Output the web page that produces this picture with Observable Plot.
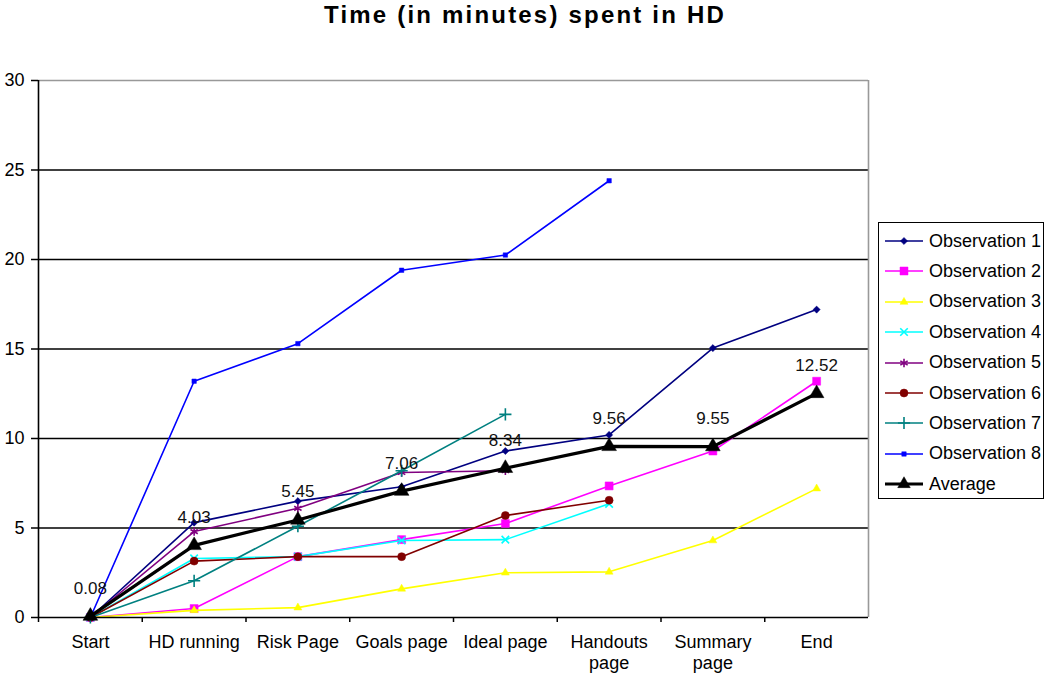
<!DOCTYPE html>
<html>
<head>
<meta charset="utf-8">
<script src="https://cdn.jsdelivr.net/npm/d3@7"></script>
<script src="https://cdn.jsdelivr.net/npm/@observablehq/plot@0.6"></script>
<style>
  body { margin: 0; background: #fff; font-family: "Liberation Sans", Arial, sans-serif; }
  #wrap { position: relative; width: 1050px; height: 678px; overflow: hidden; }
  #title { height: 40px; line-height: 30px; text-align: center; font-weight: bold; font-size: 24px; letter-spacing: 2.2px; color: #000; }
  #legend { position: absolute; left: 878px; top: 222px; width: 166px; height: 277px; border: 1.5px solid #000; box-sizing: border-box; background: #fff; }
  .item { position: absolute; left: 0; height: 24px; display: flex; align-items: center; font-size: 18px; color: #000; white-space: nowrap; }
  .item svg { margin-left: 6px; margin-right: 6px; }
</style>
</head>
<body>
<div id="wrap">
  <div id="title">Time (in minutes) spent in HD</div>
  <div id="chart"></div>
  <div id="legend"></div>
</div>
<script>
const categories = ["Start", "HD running", "Risk Page", "Goals page", "Ideal page", "Handouts\npage", "Summary\npage", "End"];
const seriesNames = ["Observation 1", "Observation 2", "Observation 3", "Observation 4", "Observation 5", "Observation 6", "Observation 7", "Observation 8", "Average"];
const obs1 = [0, 5.3, 6.5, 7.3, 9.3, 10.2, 15.05, 17.2];
const obs2 = [0, 0.5, 3.4, 4.35, 5.25, 7.35, 9.3, 13.2];
const obs3 = [0, 0.4, 0.55, 1.6, 2.5, 2.55, 4.3, 7.2];
const obs4 = [0, 3.3, 3.4, 4.3, 4.35, 6.35, null, null];
const obs5 = [0, 4.8, 6.1, 8.1, 8.2, null, null, null];
const obs6 = [0, 3.15, 3.4, 3.4, 5.7, 6.55, null, null];
const obs7 = [0, 2.05, 5.1, 8.2, 11.35, null, null, null];
const obs8 = [0, 13.2, 15.3, 19.4, 20.25, 24.4, null, null];
const average = [0.08, 4.03, 5.45, 7.06, 8.34, 9.56, 9.55, 12.52];
const yTicks = [0, 5, 10, 15, 20, 25, 30];

const seriesValues = [obs1, obs2, obs3, obs4, obs5, obs6, obs7, obs8, average];
const colors = ["#000080", "#FF00FF", "#FFFF00", "#00FFFF", "#800080", "#800000", "#008080", "#0000FF", "#000000"];
const symbols = ["diamond2", "square", "triangle2", "times", "asterisk", "circle", "plus", "square", "triangle2"];
const radii = [3.2, 4.5, 3.8, 3.5, 4, 4, 4, 2.5, 7];
const strokeOnly = new Set(["times", "asterisk", "plus"]);

const series = seriesNames.map((name, s) => ({
  name, color: colors[s], symbol: symbols[s], r: radii[s],
  rows: seriesValues[s].map((v, i) => ({i, v})).filter(d => d.v != null)
}));

const marks = [
  Plot.ruleY([5, 10, 15, 20, 25], {stroke: "#000", strokeWidth: 1.6}),
  Plot.ruleY([30], {stroke: "#999", strokeWidth: 1.6}),
  Plot.ruleX([7.5], {y1: 0, y2: 30, stroke: "#999", strokeWidth: 1.6}),
  Plot.axisY({ticks: yTicks, tickSize: 7, tickPadding: 7, fontSize: 18, stroke: "#000", strokeWidth: 1.5, label: null, color: "#000"}),
  Plot.axisX({ticks: [-0.5, 0.5, 1.5, 2.5, 3.5, 4.5, 5.5, 6.5], tickSize: 5, tickFormat: () => "", label: null, strokeWidth: 1.5}),
  Plot.text(categories.map((c, i) => i), {x: d => d, y: 0, text: d => categories[d], dy: 15, lineAnchor: "top", lineHeight: 1.2, fontSize: 18, fill: "#000"})
];

series.forEach((s, k) => {
  const isAvg = k === seriesNames.length - 1;
  marks.push(Plot.line(s.rows, {x: "i", y: "v", stroke: s.color, strokeWidth: isAvg ? 3.2 : 1.6}));
  const so = strokeOnly.has(s.symbol);
  marks.push(Plot.dot(s.rows, {x: "i", y: "v", symbol: () => s.symbol, r: s.r,
    fill: so ? "none" : s.color, stroke: s.color, strokeWidth: so ? 1.6 : 0.5}));
});

marks.push(Plot.ruleX([-0.5], {y1: 0, y2: 30, stroke: "#000", strokeWidth: 1.6}));
marks.push(Plot.ruleY([0], {stroke: "#000", strokeWidth: 1.6}));
marks.push(Plot.text(average.map((v, i) => ({i, v})), {x: "i", y: "v", text: d => d.v.toFixed(2), dy: -28, fontSize: 17, fill: "#111"}));

const chart = Plot.plot({
  width: 1050, height: 638,
  marginLeft: 38, marginRight: 182, marginTop: 40, marginBottom: 61,
  style: {fontFamily: "'Liberation Sans', Arial, sans-serif", background: "#fff", color: "#000"},
  x: {type: "linear", domain: [-0.5, 7.5], axis: null},
  y: {domain: [0, 30], axis: null},
  symbol: {type: "identity"},
  marks
});
document.getElementById("chart").appendChild(chart);

// legend
const symMap = {diamond2: d3.symbolDiamond2, square: d3.symbolSquare, triangle2: d3.symbolTriangle2, times: d3.symbolTimes, asterisk: d3.symbolAsterisk, circle: d3.symbolCircle, plus: d3.symbolPlus};
const legend = d3.select("#legend");
series.forEach((s, k) => {
  const isAvg = k === seriesNames.length - 1;
  const item = legend.append("div").attr("class", "item").style("top", (6 + k * 30.4) + "px");
  const svg = item.append("svg").attr("width", 38).attr("height", 20);
  svg.append("line").attr("x1", 0).attr("x2", 38).attr("y1", 10).attr("y2", 10)
    .attr("stroke", s.color).attr("stroke-width", isAvg ? 3.2 : 1.6);
  const so = strokeOnly.has(s.symbol);
  const r = isAvg ? 6 : s.r;
  svg.append("path").attr("transform", "translate(19,10)")
    .attr("d", d3.symbol(symMap[s.symbol], Math.PI * r * r)())
    .attr("fill", so ? "none" : s.color).attr("stroke", s.color).attr("stroke-width", so ? 1.6 : 0.5);
  item.append("span").text(s.name);
});
</script>
</body>
</html>
